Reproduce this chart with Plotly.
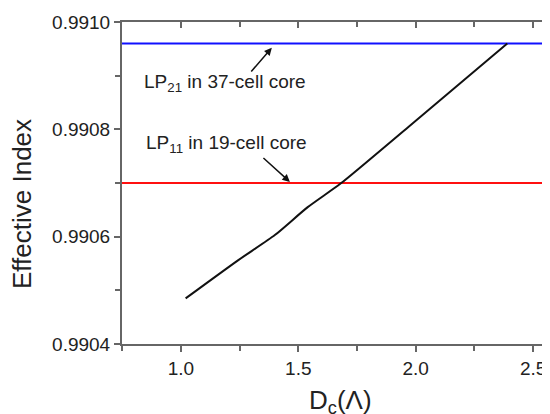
import plotly.graph_objects as go

# Data
dc_values = [1.02, 1.24, 1.40, 1.54, 1.68, 1.97, 2.39]
neff_values = [0.990485, 0.990555, 0.990603, 0.990655, 0.990699, 0.990805, 0.99096]
lp21_37cell = 0.99096
lp11_19cell = 0.99070
hline_x = [0.6, 2.9]
x_ticks = [1.0, 1.5, 2.0, 2.5]
y_ticks = [0.9904, 0.9906, 0.9908, 0.9910]

FONT = "Arial, Liberation Sans, sans-serif"
AXC = "#666666"

fig = go.Figure()
fig.add_trace(go.Scatter(x=hline_x, y=[lp21_37cell] * 2, mode="lines",
                         line=dict(color="#1010ff", width=2), hoverinfo="skip"))
fig.add_trace(go.Scatter(x=hline_x, y=[lp11_19cell] * 2, mode="lines",
                         line=dict(color="#ff1010", width=2), hoverinfo="skip"))
fig.add_trace(go.Scatter(x=dc_values, y=neff_values, mode="lines",
                         line=dict(color="#111111", width=2, shape="spline",
                                   smoothing=0.6)))

xr = [0.749, 2.572]
# page has an 8px body margin; figure is offset by 8px, so compensate
fig.update_layout(
    width=542, height=406,
    margin=dict(l=114, r=0, t=14, b=70, autoexpand=False),
    paper_bgcolor="white", plot_bgcolor="white",
    showlegend=False,
    font=dict(family=FONT, size=19, color="#222222"),
    xaxis=dict(range=xr, tickvals=x_ticks, tickformat=".1f", ticks="outside",
               ticklen=6, tickwidth=1.5, tickcolor=AXC, showline=True,
               linecolor=AXC, linewidth=2, mirror=True, showgrid=False,
               zeroline=False, automargin=False,
               minor=dict(dtick=0.25, tick0=0.75, ticks="outside", ticklen=5,
                          tickwidth=1.5, tickcolor=AXC, showgrid=False),
               tickfont=dict(size=19)),
    xaxis2=dict(range=xr, overlaying="x", side="top", tickvals=x_ticks,
                showticklabels=False, ticks="inside", ticklen=6, tickwidth=1.5,
                tickcolor=AXC, showgrid=False, zeroline=False, showline=False,
                automargin=False,
                minor=dict(dtick=0.25, tick0=0.75, ticks="inside", ticklen=5,
                           tickwidth=1.5, tickcolor=AXC, showgrid=False)),
    yaxis=dict(range=[0.9904, 0.9910], tickvals=y_ticks, tickformat=".4f",
               ticks="outside", ticklen=6, tickwidth=1.5, tickcolor=AXC,
               showline=True, linecolor=AXC, linewidth=2, showgrid=False,
               zeroline=False, automargin=False,
               minor=dict(dtick=0.0001, tick0=0.9904, ticks="outside", ticklen=5,
                          tickwidth=1.5, tickcolor=AXC, showgrid=False),
               tickfont=dict(size=19)),
)
# dummy trace to activate xaxis2
fig.add_trace(go.Scatter(x=[None], y=[None], xaxis="x2", showlegend=False))

ann_font = dict(family=FONT, size=19, color="#222222")
fig.add_annotation(x=0.834, y=0.990886, xref="x", yref="y",
                   text="LP<sub>21</sub> in 37-cell core", showarrow=False,
                   xanchor="left", yanchor="middle", font=ann_font)
fig.add_annotation(x=0.843, y=0.990773, xref="x", yref="y",
                   text="LP<sub>11</sub> in 19-cell core", showarrow=False,
                   xanchor="left", yanchor="middle", font=ann_font)
# arrows
fig.add_annotation(x=1.387, y=0.990952, ax=1.294, ay=0.990905,
                   xref="x", yref="y", axref="x", ayref="y", text="",
                   showarrow=True, arrowhead=2, arrowsize=1, arrowwidth=1.5,
                   arrowcolor="#111111")
fig.add_annotation(x=1.464, y=0.990702, ax=1.345, ay=0.990749,
                   xref="x", yref="y", axref="x", ayref="y", text="",
                   showarrow=True, arrowhead=2, arrowsize=1, arrowwidth=1.5,
                   arrowcolor="#111111")
# axis titles (paper coords computed from page pixels)
fig.add_annotation(x=(22 - 122) / 428, y=(344 - 204) / 322, xref="paper", yref="paper",
                   text="Effective Index", textangle=-90, showarrow=False,
                   xanchor="center", yanchor="middle",
                   font=dict(family=FONT, size=26, color="#222222"))
fig.add_annotation(x=(340 - 122) / 428, y=(344 - 383) / 322, xref="paper", yref="paper",
                   text="D<sub>c</sub>(Λ)", showarrow=False,
                   xanchor="center", yanchor="top",
                   font=dict(family=FONT, size=26, color="#222222"))

fig.write_html("out.html")
